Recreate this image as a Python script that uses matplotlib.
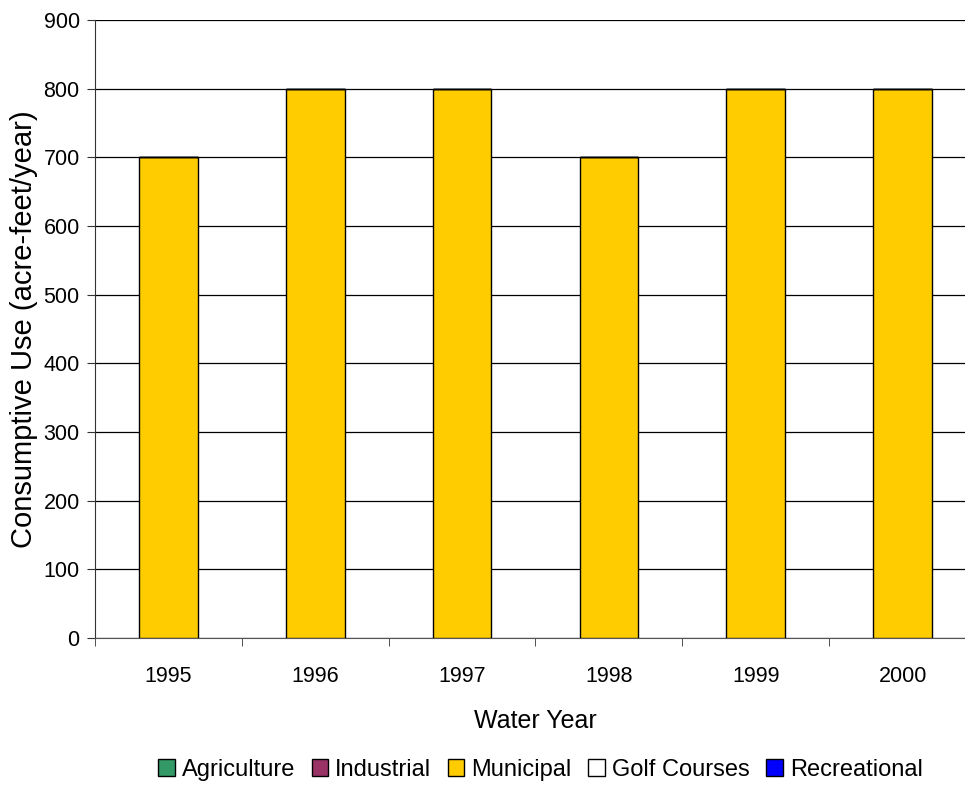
import matplotlib.pyplot as plt
import numpy as np

plt.rcParams['font.family'] = ['Liberation Sans', 'DejaVu Sans']

# data
years = ['1995', '1996', '1997', '1998', '1999', '2000']
agriculture = [0, 0, 0, 0, 0, 0]
industrial = [0, 0, 0, 0, 0, 0]
municipal = [700, 800, 800, 700, 800, 800]
golf_courses = [0, 0, 0, 0, 0, 0]
recreational = [0, 0, 0, 0, 0, 0]

series = [('Agriculture', agriculture, '#339966'),
          ('Industrial', industrial, '#993366'),
          ('Municipal', municipal, '#FFCC00'),
          ('Golf Courses', golf_courses, '#FFFFFF'),
          ('Recreational', recreational, '#0000FF')]

fig = plt.figure(figsize=(9.65, 7.87), dpi=100)
ax = fig.add_axes([0.0984, 0.1893, 0.913, 0.7853])

x = np.arange(len(years))
bottom = np.zeros(len(years))
for name, vals, col in series:
    vals = np.array(vals, dtype=float)
    ax.bar(x, vals, 0.4, bottom=bottom, color=col, edgecolor='black',
           linewidth=1, label=name, zorder=3)
    bottom += vals

ax.set_xlim(-0.5, len(years) - 0.5)
ax.set_ylim(0, 900)
ax.set_yticks(np.arange(0, 901, 100))
ax.yaxis.grid(True, color='black', linewidth=0.9, zorder=0)
ax.set_axisbelow(True)

ax.set_xticks(x)
ax.set_xticklabels(years, fontsize=15.5)
ax.tick_params(axis='x', which='major', length=0, pad=20)
ax.set_xticks(np.arange(-0.5, len(years), 1.0), minor=True)
ax.tick_params(axis='x', which='minor', length=6, color='#333333')
ax.tick_params(axis='y', labelsize=15.5, length=6, color='#333333', pad=5)

for s in ['top', 'right']:
    ax.spines[s].set_visible(False)
ax.spines['left'].set_color('#333333')
ax.spines['bottom'].set_color('#555555')

ax.set_xlabel('Water Year', fontsize=18, labelpad=16)
ax.set_ylabel('Consumptive Use (acre-feet/year)', fontsize=21, labelpad=4)

fig.legend(loc='center', bbox_to_anchor=(0.56, 0.022), ncol=5, frameon=False,
           fontsize=17, handlelength=0.7, handleheight=0.7, handletextpad=0.3,
           columnspacing=0.7, borderaxespad=0)

plt.savefig('out.png', dpi=100)
